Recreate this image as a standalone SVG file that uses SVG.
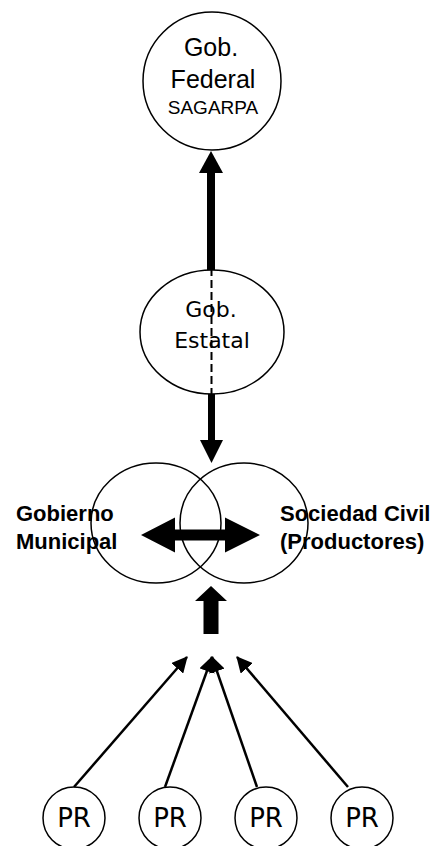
<svg xmlns="http://www.w3.org/2000/svg" width="436" height="846" viewBox="0 0 436 846">
<style>
.node{fill:#fff;stroke:#000;stroke-width:1.5}
.lens{fill:none;stroke:#000;stroke-width:1.5}
.t{font-family:"Liberation Sans",Arial,sans-serif;fill:#000;text-anchor:middle}
.d{font-family:"DejaVu Sans",Tahoma,sans-serif;fill:#000;text-anchor:middle}
.b{font-family:"Liberation Sans",Arial,sans-serif;font-weight:bold;fill:#000;font-size:22px}
.thin{stroke:#000;stroke-width:2.5;fill:none}
</style>
<defs>
<marker id="ahs" viewBox="0 0 16 16" refX="15" refY="8" markerWidth="16" markerHeight="16" orient="auto" markerUnits="userSpaceOnUse">
<path d="M0,0 L16,8 L0,16 Z" fill="#000"/>
</marker>
</defs>
<g id="federal">
<ellipse class="node" cx="212" cy="81" rx="69" ry="69"/>
<text class="t" x="211" y="56" font-size="25">Gob.</text>
<text class="t" x="213" y="88" font-size="25">Federal</text>
<text class="t" x="213" y="114" font-size="19">SAGARPA</text>
</g>
<g id="estatal">
<ellipse class="node" cx="212" cy="332" rx="72" ry="62"/>
<text class="d" x="211" y="317" font-size="22">Gob.</text>
<text class="d" x="212" y="348" font-size="22">Estatal</text>
</g>
<g id="municipal">
<ellipse class="lens" cx="156" cy="523" rx="65" ry="60"/>
<text class="b" x="16" y="521">Gobierno</text>
<text class="b" x="16" y="549">Municipal</text>
</g>
<g id="sociedad">
<ellipse class="lens" cx="244" cy="523" rx="64" ry="60"/>
<text class="b" x="280" y="521">Sociedad Civil</text>
<text class="b" x="280" y="549">(Productores)</text>
</g>
<g id="pr1"><circle class="node" cx="74" cy="818" r="31"/><text class="d" x="74" y="827" font-size="26">PR</text></g>
<g id="pr2"><circle class="node" cx="170" cy="818" r="31"/><text class="d" x="170" y="827" font-size="26">PR</text></g>
<g id="pr3"><circle class="node" cx="266" cy="818" r="31"/><text class="d" x="266" y="827" font-size="26">PR</text></g>
<g id="pr4"><circle class="node" cx="362" cy="818" r="31"/><text class="d" x="362" y="827" font-size="26">PR</text></g>
<g id="connectors">
<line x1="211" y1="270" x2="211" y2="171" stroke="#000" stroke-width="8"/>
<path d="M199,173 L211,151 L223,173 Z" fill="#000"/>
<line x1="211.5" y1="268" x2="211.5" y2="394" stroke="#000" stroke-width="2" stroke-dasharray="8,4"/>
<line x1="211.5" y1="394" x2="211.5" y2="442" stroke="#000" stroke-width="7"/>
<path d="M200,440 L211.5,463 L223,440 Z" fill="#000"/>
<path d="M141,535 L175,517.5 L175,529.5 L225,529.5 L225,517.5 L260,535 L225,552.5 L225,540.5 L175,540.5 L175,552.5 Z" fill="#000"/>
<path d="M211,586 L227,601 L218.5,601 L218.5,634 L203.5,634 L203.5,601 L195,601 Z" fill="#000"/>
<line class="thin" x1="74" y1="787" x2="187" y2="657" marker-end="url(#ahs)"/>
<line class="thin" x1="165" y1="787" x2="212" y2="657" marker-end="url(#ahs)"/>
<line class="thin" x1="257" y1="787" x2="212" y2="657" marker-end="url(#ahs)"/>
<line class="thin" x1="348" y1="787" x2="237" y2="657" marker-end="url(#ahs)"/>
</g>
</svg>
